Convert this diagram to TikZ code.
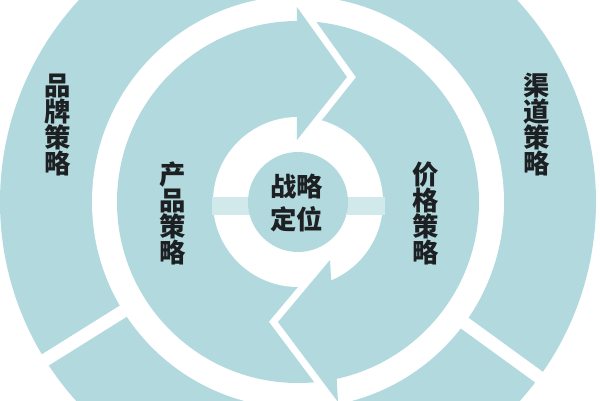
\documentclass[tikz,border=0pt]{standalone}
\usepackage{fontspec}
\usepackage{tikz}
\newfontfamily\cjk{Noto Sans CJK SC}

\definecolor{ringblue}{RGB}{178,218,222}
\definecolor{labelink}{RGB}{28,32,35}

\begin{document}
\begin{tikzpicture}[x=0.02cm, y=0.02cm,
    tag/.style={font=\cjk\bfseries\fontsize{15}{14.8}\selectfont, text=labelink, align=center, inner sep=0pt}]
    \clip (0,0) rectangle (600,400);
    \coordinate (c) at (298,198);

    % outer ring with its two cuts
    \draw[fill=ringblue, draw=none] (c) circle (298);
    \draw[white, line width=7.4pt] (c) ++(212:190) -- ++(212:140);
    \draw[white, line width=7.4pt] (c) ++(-36:190) -- ++(-36:140);
    \draw[fill=white, draw=none] (c) circle (206);

    % middle ring
    \draw[fill=ringblue, draw=none] (c) circle (181);
    \draw[fill=white, draw=none] (c) circle (85);

    % arrow heads
    \draw[white, line width=8pt] (297,393) -- (347,323) -- (297,260);
    \draw[white, line width=8pt] (330,140) -- (278,78) -- (338,-2);
    \draw[fill=ringblue, draw=none] (297,393) -- (347,323) -- (297,260) -- cycle;
    \draw[fill=ringblue, draw=none] (330,140) -- (278,78) -- (338,-2) -- cycle;

    % bars and centre
    \draw[fill=ringblue!60, draw=none] (212,185) rectangle (250,203);
    \draw[fill=ringblue!60, draw=none] (347,185) rectangle (385,203);
    \draw[fill=ringblue, draw=none] (c) circle (50);

    \node[tag] (brand) at (58,275) {品\\牌\\策\\略};
    \node[tag] (channel) at (537,275) {渠\\道\\策\\略};
    \node[tag] (product) at (173,187) {产\\品\\策\\略};
    \node[tag] (price) at (426,187) {价\\格\\策\\略};
    \node[tag, font=\cjk\bfseries\fontsize{15}{19}\selectfont] (core) at (297,197) {战略\\定位};
\end{tikzpicture}
\end{document}
